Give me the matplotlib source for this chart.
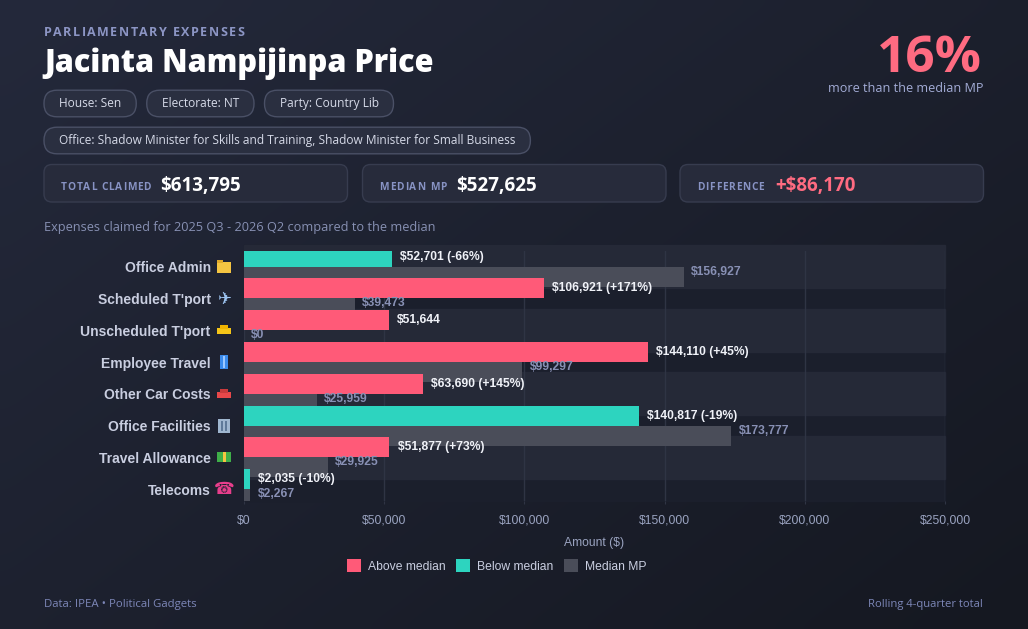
import numpy as np
import matplotlib
matplotlib.use('Agg')
import matplotlib.pyplot as plt
from matplotlib.patches import FancyBboxPatch, Rectangle, Patch

# ---- data ----
categories = ['Office Admin', "Scheduled T'port", "Unscheduled T'port", 'Employee Travel',
              'Other Car Costs', 'Office Facilities', 'Travel Allowance', 'Telecoms']
claimed = [52701, 106921, 51644, 144110, 63690, 140817, 51877, 2035]
median = [156927, 39473, 0, 99297, 25959, 173777, 29925, 2267]
xticks = [0, 50000, 100000, 150000, 200000, 250000]

name = 'Jacinta Nampijinpa Price'
pills_row1 = ['House: Sen', 'Electorate: NT', 'Party: Country Lib']
pills_row2 = ['Office: Shadow Minister for Skills and Training, Shadow Minister for Small Business']
total_claimed = sum(claimed)
median_total = 527625
period = '2025 Q3 - 2026 Q2'

RED = '#ff5a78'
TEAL = '#2dd4bf'
GREY = '#4a4d59'
W, H = 1028, 629
SANS = 'Open Sans'
CHART = 'Liberation Sans'

fig = plt.figure(figsize=(W / 100, H / 100), dpi=100)
R = fig.canvas.get_renderer()

# full-figure background axes in pixel coordinates
bg = fig.add_axes([0, 0, 1, 1])
gy, gx = np.mgrid[0:1:64j, 0:1:64j]
t = 0.55 * gx + 0.45 * gy
c1 = np.array([0x24, 0x29, 0x3b]) / 255
c2 = np.array([0x15, 0x18, 0x21]) / 255
bg.imshow(c1 + (c2 - c1) * t[..., None], extent=(0, W, H, 0), aspect='auto',
          interpolation='bicubic', zorder=0)
bg.set_xlim(0, W)
bg.set_ylim(H, 0)
bg.axis('off')


def fit(txt, width):
    w = txt.get_window_extent(R).width
    txt.set_fontsize(txt.get_fontsize() * width / w)
    return txt


def spaced(x, y, s, width, size, color):
    # letter-spaced caps stretched to a given width
    parts, ws = [], []
    for ch in s:
        tt = bg.text(0, 0, ch, fontsize=size, fontweight='bold', family=SANS,
                     color=color, va='baseline')
        ws.append(size * 0.35 if ch == ' ' else tt.get_window_extent(R).width)
        parts.append(tt)
    gap = (width - sum(ws)) / (len(s) - 1)
    cx = x
    for tt, w in zip(parts, ws):
        tt.set_position((cx, y))
        cx += w + gap


# ---- header ----
spaced(44, 35.5, 'PARLIAMENTARY EXPENSES', 200, 9, '#8c95c4')
fit(bg.text(44, 72, name, fontsize=24, fontweight='heavy', family=SANS,
            color='white', va='baseline'), 390)

pct = round((total_claimed - median_total) / median_total * 100)
fit(bg.text(982, 71.5, f'{pct}%', fontsize=40, fontweight='bold', family=SANS,
            color='#ff6b81', va='baseline', ha='right'), 105)
fit(bg.text(983, 88, 'more than the median MP', fontsize=9.5, family=SANS,
            color='#a3acd6', va='center', ha='right'), 157)

tmp = fit(bg.text(0, 0, pills_row2[0], fontsize=9, family=SANS), 463)
pill_size = tmp.get_fontsize()
tmp.remove()


def pill(x, yc, text):
    tt = bg.text(x + 15, yc, text, fontsize=pill_size, family=SANS, color='#d6dae8',
                 va='center')
    w = tt.get_window_extent(R).width
    bg.add_patch(FancyBboxPatch((x, yc - 13.3), w + 30, 26.6,
                                boxstyle='round,pad=0,rounding_size=13',
                                fc='#2a2f40', ec='#4a5066', lw=1, zorder=1))
    return x + w + 30


x = 44
for p in pills_row1:
    x = pill(x, 103.5, p) + 10.5
x = 44
for p in pills_row2:
    x = pill(x, 140.5, p) + 10.5

cards = [
    (44, 'TOTAL CLAIMED', 90, f'${total_claimed:,}', 160, 'white'),
    (362.5, 'MEDIAN MP', 67, f'${median_total:,}', 456, 'white'),
    (680, 'DIFFERENCE', 67, f'+${total_claimed - median_total:,}', 775, '#ff6b81'),
]
tmp = fit(bg.text(0, 0, f'${total_claimed:,}', fontsize=12, fontweight='bold',
                  family=SANS), 80)
val_size = tmp.get_fontsize()
tmp.remove()
for x0, lab, lw_, val, vx, vc in cards:
    bg.add_patch(FancyBboxPatch((x0, 164.5), 303.5, 37.5,
                                boxstyle='round,pad=0,rounding_size=8',
                                fc='#272b3b', ec='#373c4f', lw=1, zorder=1))
    spaced(x0 + 17, 190.5, lab, lw_, 7.3, '#8893c4')
    bg.text(vx, 191, val, fontsize=val_size, fontweight='bold', family=SANS,
            color=vc, va='baseline')

fit(bg.text(44, 227.5, f'Expenses claimed for {period} compared to the median',
            fontsize=9.5, family=SANS, color='#8790b3', va='center'), 395)

# footer
fit(bg.text(44, 604, 'Data: IPEA \u2022 Political Gadgets', fontsize=8, family=SANS,
            color='#7d87b8', va='center'), 153)
fit(bg.text(983, 604, 'Rolling 4-quarter total', fontsize=8, family=SANS,
            color='#7d87b8', va='center', ha='right'), 116)

# ---- chart ----
ax = fig.add_axes([244 / W, 1 - 501 / H, 701 / W, (501 - 250.7) / H])
ax.patch.set_alpha(0)
y = np.arange(len(categories))
h = 0.629

ax.axhspan(-0.68, 7.37, color='#1b1f2c', zorder=0, clip_on=False)
for k in range(0, len(categories), 2):
    ax.axhspan(k - 0.68, k + 0.67, color='#252937', zorder=0, clip_on=False)

colors = [RED if c > m else TEAL for c, m in zip(claimed, median)]
ax.barh(y + h / 2, median, height=h, color=GREY, zorder=2)
ax.barh(y - h / 2, claimed, height=h, color=colors, zorder=3)

for i in range(len(categories)):
    c, m = claimed[i], median[i]
    lbl = f'${c:,}'
    if m > 0:
        lbl += f' ({round((c / m - 1) * 100):+d}%)'
    ax.annotate(lbl, (c, y[i] - h / 2), xytext=(5.8, 0), textcoords='offset points',
                va='center', ha='left', fontsize=8.7, fontweight='bold', family=CHART,
                color='#f0f2f8', zorder=5, annotation_clip=False)
    ax.annotate(f'${m:,}', (m, y[i] + 0.157), xytext=(5.2, 0), textcoords='offset points',
                va='center', ha='left', fontsize=8.7, fontweight='bold', family=CHART,
                color='#8890b4', zorder=5, annotation_clip=False)

ax.set_xlim(0, 250000)
ax.set_ylim(7.37, -0.5)
ax.set_xticks(xticks)
ax.set_xticklabels([f'${v:,}' for v in xticks], family=CHART, fontsize=8.7, color='#9aa3c0')
ax.set_yticks(y)
ax.set_yticklabels(categories, family=CHART, fontsize=10, fontweight='bold', color='#c9cee0')
ax.tick_params(axis='y', length=0, pad=24)
ax.tick_params(axis='x', length=2, color='#2f3444', pad=8)
ax.grid(axis='x', color='#2f3444', lw=1)
ax.set_axisbelow(True)
for s in ax.spines.values():
    s.set_visible(False)
ax.set_xlabel('Amount ($)', family=CHART, fontsize=8.7, color='#9aa3c0', labelpad=7)

# small category icons (emoji are not available as fonts)
yt = ax.get_yaxis_transform()
xc = (224 - 244) / 701
px = 1 / 701  # one pixel in axes fraction
dy = 1 / 31.8  # one pixel in data units


def box(i, wpx, hpx, color, dx=0, ddy=0):
    ax.add_patch(Rectangle((xc + (dx - wpx / 2) * px, y[i] + (ddy - hpx / 2) * dy),
                           wpx * px, hpx * dy, transform=yt, clip_on=False,
                           fc=color, ec='none', zorder=4))


box(0, 14, 11, '#f5c542', ddy=1)
box(0, 6, 3, '#e0a92a', dx=-4, ddy=-5)
ax.text(xc, 1 + 0.02, '\u2708', transform=yt, ha='center', va='center', fontsize=12,
        family='DejaVu Sans', color='#9cc3f0', zorder=4)
box(2, 14, 6, '#f5c518', ddy=1)
box(2, 8, 4, '#f0b400', ddy=-3)
box(3, 8, 14, '#3b8beb')
box(3, 2, 12, '#9cc8ff', dx=0)
box(4, 14, 6, '#e8484a', ddy=1)
box(4, 8, 4, '#c93a3c', ddy=-3)
box(5, 12, 14, '#9fb6cf')
box(5, 2, 10, '#5f7a99', dx=-2)
box(5, 2, 10, '#5f7a99', dx=2)
box(6, 14, 10, '#3fae49')
box(6, 3, 10, '#f5c542')
ax.text(xc, 7, '\u260e', transform=yt, ha='center', va='center', fontsize=12,
        family='DejaVu Sans', color='#e83e8c', zorder=4)

# legend
handles = [Patch(fc=RED, label='Above median'), Patch(fc=TEAL, label='Below median'),
           Patch(fc=GREY, label='Median MP')]
leg = fig.legend(handles=handles, loc='center left', bbox_to_anchor=(347 / W, 1 - 566 / H),
                 ncol=3, frameon=False, borderpad=0, borderaxespad=0,
                 handlelength=1.16, handleheight=1.16, handletextpad=0.55,
                 columnspacing=0.9, prop={'family': CHART, 'size': 8.7})
for tx in leg.get_texts():
    tx.set_color('#c9cee0')

fig.savefig('out.png', dpi=100)
